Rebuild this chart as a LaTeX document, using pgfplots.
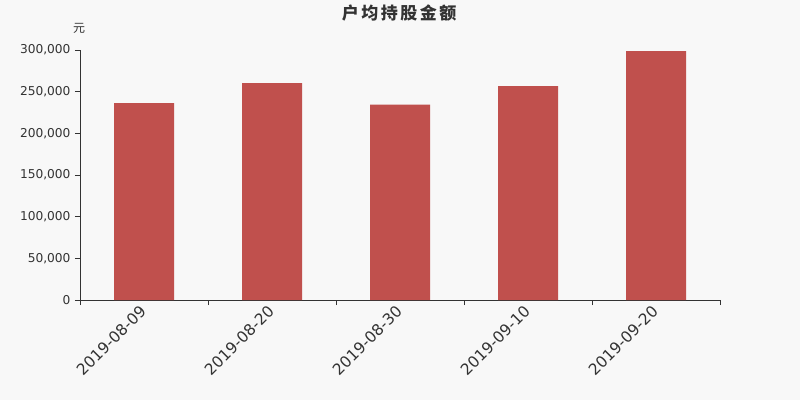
\documentclass[border=0pt]{standalone}
\usepackage{pgfplots}
\pgfplotsset{compat=1.18}
\usepackage{fontspec}
\setmainfont{DejaVu Sans}
\newfontfamily\cjk{Noto Sans CJK SC}
\definecolor{bg}{HTML}{F8F8F8}
\definecolor{barred}{HTML}{C0504D}
\definecolor{axisgray}{HTML}{333333}
\begin{document}
\begin{tikzpicture}[x=1pt,y=1pt]
\path[use as bounding box, fill=bg] (0,0) rectangle (800,400);
\node[font=\fontsize{17}{17}\selectfont\cjk\bfseries, text=axisgray] at (399,387) {户\kern2.5pt 均\kern2.5pt 持\kern2.5pt 股\kern2.5pt 金\kern2.5pt 额};
\node[font=\fontsize{12}{12}\selectfont\cjk, text=axisgray] at (79,372) {元};
\begin{axis}[
    at={(80pt,100pt)}, anchor=south west,
    scale only axis,
    width=640pt, height=250pt,
    xmin=-0.5, xmax=4.5,
    ymin=0, ymax=300000,
    axis x line*=bottom, axis y line*=left,
    axis line style={axisgray, line width=0.8pt},
    ybar, bar width=60pt,
    xtick={0,1,2,3,4},
    xticklabels={2019-08-09,2019-08-20,2019-08-30,2019-09-10,2019-09-20},
    minor xtick={-0.5,0.5,1.5,2.5,3.5,4.5},
    major x tick style={draw=none},
    minor x tick style={axisgray, line width=0.8pt},
    minor tick length=5pt,
    ytick={0,50000,100000,150000,200000,250000,300000},
    y tick style={axisgray, line width=0.8pt},
    major tick length=5pt,
    tick align=outside,
    scaled y ticks=false,
    /pgf/number format/fixed,
    /pgf/number format/1000 sep={,},
    /pgf/number format/assume math mode=true,
    xticklabel style={xshift=-5pt, yshift=2pt, rotate=45, anchor=north east, inner sep=1pt, font=\fontsize{15.5}{15.5}\selectfont},
    ticklabel style={text=axisgray},
    yticklabel style={font=\fontsize{12.2}{12.2}\selectfont, xshift=-1pt},
]
\addplot[fill=barred, draw=none] coordinates {
    (0,236400) (1,260400) (2,234600) (3,256800) (4,298600)
};
\end{axis}
\end{tikzpicture}
\end{document}
